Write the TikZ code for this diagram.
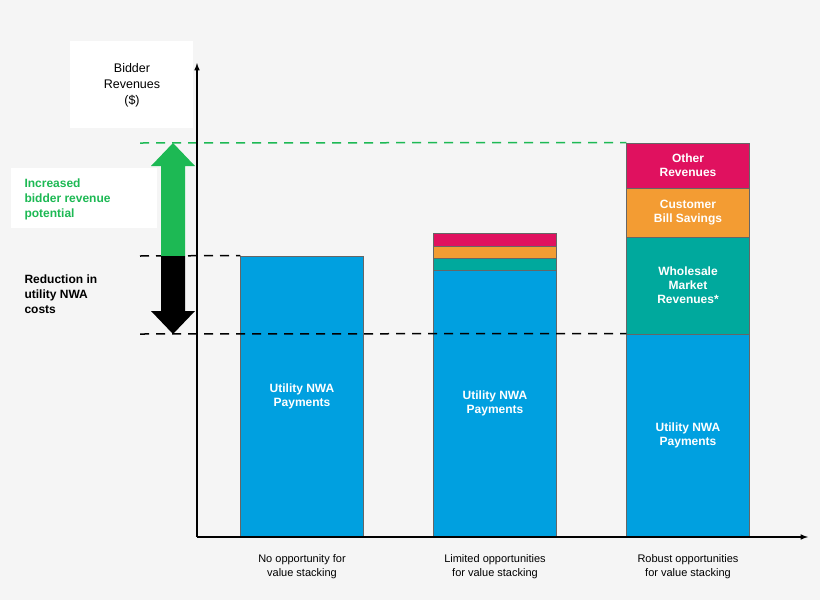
\documentclass[tikz,border=0pt]{standalone}
\usepackage{fontspec}
\setmainfont{Liberation Sans}
\usetikzlibrary{positioning}
\definecolor{bgc}{HTML}{F5F5F5}
\definecolor{nwablue}{HTML}{00A0E0}
\definecolor{wteal}{HTML}{00A99D}
\definecolor{corange}{HTML}{F39C33}
\definecolor{opink}{HTML}{E0115F}
\definecolor{incgreen}{HTML}{1DB954}
\tikzset{seg/.style={draw=black!60,line width=0.5pt,minimum width=123pt,inner sep=0pt,anchor=south}}
\tikzset{barlbl/.style={text=white,font=\bfseries\fontsize{12}{14}\selectfont,align=center}}
\tikzset{catlbl/.style={font=\fontsize{11}{14}\selectfont,align=center}}
\tikzset{lvl/.style={dashed,dash pattern=on 9pt off 7pt,line width=1.5pt}}
\begin{document}
\begin{tikzpicture}[x=1pt,y=-1pt]
\fill[bgc] (0,0) rectangle (820,600);
\useasboundingbox (0,0) rectangle (820,600);
% labels on the left
\fill[white] (70,41) rectangle (193,128);
\node[font=\fontsize{12.5}{16}\selectfont,align=center] (ylbl) at (132,85) {Bidder\\Revenues\\(\$)};
\fill[white] (11,168) rectangle (157,228);
\node[text=incgreen,font=\bfseries\fontsize{12}{15}\selectfont,align=left,anchor=west] (inc) at (21,199) {Increased\\bidder revenue\\potential};
\node[font=\bfseries\fontsize{12}{15}\selectfont,align=left,anchor=west] (red) at (21,294) {Reduction in\\utility NWA\\costs};

% bars
\foreach \n/\x/\yb/\yt/\c in {a/302/537/256/nwablue, b1/495/537/270/nwablue, b2/495/270/258/wteal, b3/495/258/246/corange, b4/495/246/233/opink, c1/688/537/334/nwablue, c2/688/334/237/wteal, c3/688/237/188/corange, c4/688/188/143/opink} {
	\pgfmathsetmacro{\h}{\yb-\yt}
	\node[seg,fill=\c,minimum height=\h pt] (\n) at (\x,\yb) {};
}
\node[barlbl] at (a) {Utility NWA\\Payments};
\node[barlbl] at (b1) {Utility NWA\\Payments};
\node[barlbl] at (c1) {Utility NWA\\Payments};
\node[barlbl] at (c2) {Wholesale\\Market\\Revenues*};
\node[barlbl] at (c3) {Customer\\Bill Savings};
\node[barlbl] at (c4) {Other\\Revenues};

% levels
\draw[lvl,incgreen] (140,143) -- (c4.north west);
\draw[lvl] (140,256) -- (a.north west);
\draw[lvl] (140,334) -- (c1.north west);

% arrows
\fill[incgreen] (161,256) -- (161,166) -- (151,166) -- (173,143) -- (195,166) -- (185,166) -- (185,256) -- cycle;
\fill[black] (161,256) -- (161,311) -- (151,311) -- (173,334) -- (195,311) -- (185,311) -- (185,256) -- cycle;

% axes
\coordinate (o) at (197,537);
\coordinate (ytop) at (197,63);
\coordinate (xend) at (808,537);
\draw[line width=1.5pt,-latex] (o) -- (ytop);
\draw[line width=1.5pt,-latex] (o) -- (xend);

% categories
\node[catlbl] (ca) at (302,567) {No opportunity for\\value stacking};
\node[catlbl] (cb) at (495,567) {Limited opportunities\\for value stacking};
\node[catlbl] (cc) at (688,567) {Robust opportunities\\for value stacking};
\end{tikzpicture}
\end{document}
